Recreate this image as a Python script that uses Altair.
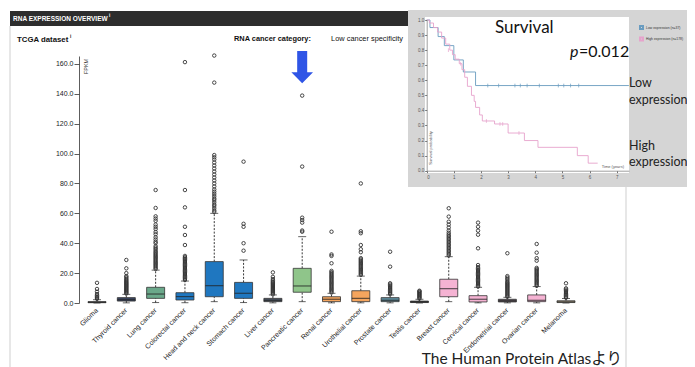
import altair as alt
import pandas as pd

# ---------------- data ----------------
cancers = ["Glioma", "Thyroid cancer", "Lung cancer", "Colorectal cancer",
           "Head and neck cancer", "Stomach cancer", "Liver cancer",
           "Pancreatic cancer", "Renal cancer", "Urothelial cancer",
           "Prostate cancer", "Testis cancer", "Breast cancer",
           "Cervical cancer", "Endometrial cancer", "Ovarian cancer", "Melanoma"]
lower_whisker = [0.0, 0.1, 0.3, 0.2, 0.9, 0.3, 0.1, 0.9, 0.1, 0.1, 0.1, 0.0, 0.9, 0.1, 0.1, 0.1, 0.0]
q1 = [0.2, 1.3, 3.1, 2.0, 4.2, 3.1, 0.9, 7.2, 0.9, 0.9, 0.9, 0.3, 4.2, 0.7, 0.7, 0.9, 0.3]
median = [0.5, 2.2, 6.0, 4.3, 11.6, 6.5, 1.8, 11.4, 2.5, 3.1, 1.8, 0.7, 9.6, 2.5, 1.4, 1.8, 0.8]
q3 = [0.9, 3.6, 10.5, 6.9, 27.7, 13.8, 3.1, 23.2, 4.2, 8.2, 3.6, 1.3, 15.9, 4.9, 2.5, 5.4, 1.5]
upper_whisker = [2.2, 5.8, 22.0, 14.7, 60.0, 28.8, 5.4, 44.4, 6.5, 18.0, 5.4, 2.5, 31.0, 10.5, 3.8, 11.0, 3.0]

outliers = {
    "Glioma": [2.8, 3.5, 4.2, 5.0, 6.0, 7.6, 9.4, 13.5],
    "Thyroid cancer": [6.3, 6.9, 7.5, 8.1, 8.7, 9.3, 9.9, 10.5, 11.1, 11.7, 12.3, 12.9,
                       13.5, 14.1, 14.8, 15.5, 16.3, 17.2, 18.0, 20.0, 23.2, 28.8],
    "Lung cancer": [22.8, 23.6, 24.4, 25.2, 26.0, 26.8, 27.6, 28.4, 29.2, 30.0, 30.8,
                    31.6, 32.4, 33.2, 34.0, 35.0, 36.0, 37.0, 38.0, 40.0, 41.0, 42.5,
                    44.0, 46.0, 47.5, 49.5, 51.0, 52.5, 55.0, 56.5, 58.0, 63.6, 75.6],
    "Colorectal cancer": [15.4, 16.2, 17.0, 17.8, 18.6, 19.4, 20.2, 21.0, 21.8, 22.6,
                          23.4, 24.2, 25.0, 25.8, 26.6, 27.4, 28.2, 29.0, 29.8, 30.6,
                          31.5, 38.8, 45.5, 51.0, 64.0, 75.6, 161.2],
    "Head and neck cancer": [61.0, 62.0, 63.5, 65.0, 66.0, 67.5, 69.0, 70.0, 71.5, 73.0,
                             74.5, 76.0, 78.0, 80.0, 82.0, 84.0, 86.0, 88.0, 90.0, 92.0,
                             94.0, 96.0, 97.5, 99.0, 147.5, 165.6],
    "Stomach cancer": [35.0, 40.0, 51.0, 53.0, 94.6],
    "Liver cancer": [5.8, 6.5, 7.2, 7.9, 8.6, 9.3, 10.0, 10.7, 11.4, 12.1, 12.8, 13.5,
                     14.2, 15.0, 16.0, 17.5, 20.5],
    "Pancreatic cancer": [47.7, 48.5, 53.8, 55.5, 57.1, 91.3, 138.8],
    "Renal cancer": [7.0, 7.8, 8.6, 9.4, 10.2, 11.0, 11.8, 12.6, 13.4, 14.2, 15.0, 15.8,
                     16.6, 17.4, 18.2, 19.0, 19.8, 20.6, 21.5, 26.6, 31.5, 32.5, 47.7],
    "Urothelial cancer": [18.8, 19.6, 20.4, 21.2, 22.0, 22.8, 23.6, 24.4, 25.2, 26.0,
                          26.8, 27.6, 28.4, 29.2, 30.0, 34.0, 36.0, 38.8, 46.7, 48.0, 80.0],
    "Prostate cancer": [6.0, 6.8, 7.6, 8.4, 9.2, 10.0, 10.8, 11.6, 12.4, 13.2, 24.3, 34.3],
    "Testis cancer": [3.0, 3.6, 4.2, 4.8, 5.4, 6.0, 6.6, 7.2, 7.8, 8.2],
    "Breast cancer": [31.8, 32.8, 33.8, 34.8, 35.8, 36.8, 37.8, 38.8, 39.8, 40.8, 41.8,
                      42.8, 43.8, 44.8, 45.8, 47.0, 48.5, 50.5, 52.5, 54.4, 57.8, 63.4],
    "Cervical cancer": [11.0, 11.8, 12.6, 13.4, 14.2, 15.0, 15.8, 16.6, 17.4, 18.2, 19.0,
                        19.8, 20.6, 21.4, 22.2, 23.0, 24.0, 25.4, 36.6, 45.7, 48.4, 51.0, 53.8],
    "Endometrial cancer": [4.2, 4.9, 5.6, 6.3, 7.0, 7.7, 8.4, 9.1, 9.8, 10.5, 11.2, 11.9,
                           12.6, 13.3, 14.0, 15.0, 16.0, 17.0, 18.0, 33.3],
    "Ovarian cancer": [11.5, 12.3, 13.1, 13.9, 14.7, 15.5, 16.3, 17.1, 17.9, 18.7, 19.5,
                       20.3, 21.1, 21.9, 22.7, 23.5, 28.3, 30.0, 33.7, 39.5],
    "Melanoma": [3.5, 4.2, 5.0, 5.8, 6.6, 7.4, 8.2, 9.0, 9.8, 13.2],
}
arrow_target = ["Pancreatic cancer"]
arrow_value = [157.9]

groups = ["Low expression (n=37)", "High expression (n=178)"]
low_time = [0.0, 0.12, 0.42, 0.65, 1.0, 1.35, 1.8, 7.45]
low_prob = [1.0, 0.95, 0.89, 0.83, 0.735, 0.655, 0.565, 0.565]
high_time = [0.0, 0.1, 0.25, 0.4, 0.55, 0.7, 0.85, 0.95, 1.05, 1.2, 1.3, 1.4, 1.5,
             1.65, 1.75, 1.8, 1.95, 2.05, 2.5, 3.0, 3.6, 4.1, 5.55, 5.95, 6.3]
high_prob = [1.0, 0.98, 0.95, 0.92, 0.88, 0.84, 0.80, 0.77, 0.74, 0.71, 0.67, 0.62, 0.56,
             0.50, 0.46, 0.42, 0.37, 0.33, 0.31, 0.25, 0.20, 0.155, 0.10, 0.05, 0.05]
low_cens_time = [2.25, 2.65, 3.25, 3.45, 3.7, 4.15, 4.85, 5.05, 5.3, 5.6]
high_cens_time = [0.8, 1.25, 2.2, 2.7, 2.8, 3.4]
high_cens_prob = [0.80, 0.71, 0.33, 0.31, 0.31, 0.25]

y_ticks = [0, 20, 40, 60, 80, 100, 120, 140, 160]
surv_y_ticks = [0.0, 0.1, 0.2, 0.3, 0.4, 0.5, 0.6, 0.7, 0.8, 0.9, 1.0]
surv_x_ticks = [0, 1, 2, 3, 4, 5, 6, 7]

# ---------------- styles ----------------
box_colors = ["#555555", "#3b4660", "#6aa88a", "#1f77c0", "#1f77c0", "#1f77c0",
              "#4b5563", "#8fc58a", "#f5a55e", "#f5a55e", "#5e8c9c", "#3a3a3a",
              "#f5b3d3", "#f5b3d3", "#5a5058", "#f5b3d3", "#c9b99a"]
surv_colors = ["#6a9cc0", "#e6a3cc"]
SANS = "Liberation Sans"
CAL = "Lato"
W, H = 679, 359

box_df = pd.DataFrame({"cancer": cancers, "lo": lower_whisker, "q1": q1,
                       "med": median, "q3": q3, "hi": upper_whisker})
out_df = pd.DataFrame([{"cancer": c, "v": v} for c in cancers for v in outliers[c]])
arrow_df = pd.DataFrame({"cancer": arrow_target, "v": arrow_value})
surv_df = pd.concat([
    pd.DataFrame({"group": groups[0], "t": low_time, "p": low_prob}),
    pd.DataFrame({"group": groups[1], "t": high_time, "p": high_prob}),
])
cens_df = pd.concat([
    pd.DataFrame({"group": groups[0], "t": low_cens_time, "p": [low_prob[-1]] * len(low_cens_time)}),
    pd.DataFrame({"group": groups[1], "t": high_cens_time, "p": high_cens_prob}),
])
one = pd.DataFrame({"k": [0]})

# ---------------- box plot ----------------
XS = alt.Scale(domain=cancers, range=[74.35, 572.65], paddingInner=0, paddingOuter=0)
YS = alt.Scale(domain=[0, 165.3], range=[295, 48], nice=False, zero=False)
xaxis = alt.Axis(orient="bottom", offset=297 - H, ticks=False, domain=False,
                 labelAngle=-45, labelAlign="right", labelBaseline="middle",
                 labelFontSize=7, labelFont=SANS, labelColor="#222", labelPadding=4,
                 labelLimit=0, title=None, grid=False)
yaxis = alt.Axis(orient="left", offset=-71, values=y_ticks, format=".1f",
                 labelFontSize=7, labelFont=SANS, labelColor="#222", labelPadding=1,
                 tickSize=5, tickColor="#333", tickWidth=0.8, domainColor="#333",
                 domainWidth=0.8, grid=False, title="FPKM", titleFontSize=5.5,
                 titleFont=SANS, titleFontWeight="normal", titleColor="#333",
                 titleAngle=270, titleX=6, titleY=58, titleAlign="center",
                 titleBaseline="middle")


def X():
    return alt.X("cancer:N", scale=XS, axis=xaxis, title=None)


def Y(f):
    return alt.Y(f"{f}:Q", scale=YS, axis=yaxis, title="FPKM")


col = alt.Color("cancer:N", scale=alt.Scale(domain=cancers, range=box_colors), legend=None)

lw = alt.Chart(box_df).mark_rule(strokeDash=[2, 1.5], strokeWidth=0.9, color="#222").encode(
    x=X(), y=Y("lo"), y2="q1")
uw = alt.Chart(box_df).mark_rule(strokeDash=[2, 1.5], strokeWidth=0.9, color="#222").encode(
    x=X(), y=Y("q3"), y2="hi")
cap_hi = alt.Chart(box_df).mark_tick(size=8, thickness=1, color="#222").encode(x=X(), y=Y("hi"))
cap_lo = alt.Chart(box_df).mark_tick(size=7, thickness=1, color="#222").encode(x=X(), y=Y("lo"))
box = alt.Chart(box_df).mark_bar(size=18, stroke="#333", strokeWidth=0.8).encode(
    x=X(), y=Y("q1"), y2="q3", color=col)
med = alt.Chart(box_df).mark_tick(size=18, thickness=1.2, color="#222").encode(x=X(), y=Y("med"))
pts = alt.Chart(out_df).mark_point(shape="circle", filled=False, size=12, strokeWidth=0.9,
                                   color="#333", opacity=1).encode(x=X(), y=Y("v"))
ARROW = "M-0.31,-1L0.31,-1L0.31,0.32L0.67,0.32L0,1L-0.67,0.32L-0.31,0.32Z"
arrow = alt.Chart(arrow_df).mark_point(shape=ARROW, filled=True, size=1043, color="#2f55e6",
                                       opacity=1, strokeWidth=0).encode(x=X(), y=Y("v"))
box_layer = alt.layer(lw, uw, cap_hi, cap_lo, box, med, pts, arrow)

# ---------------- survival inset ----------------
SX = alt.Scale(domain=[0, 7.45], range=[418.7, 620.9], nice=False, zero=False)
SY = alt.Scale(domain=[0, 1], range=[162.7, 12], nice=False, zero=False)
sxaxis = alt.Axis(orient="bottom", offset=162.7 - H, values=surv_x_ticks, format="d",
                  labelFontSize=4.5, labelFont=SANS, labelColor="#555", tickSize=2,
                  tickColor="#777", domainColor="#777", domainWidth=0.7, labelPadding=2,
                  grid=False, title=None, zindex=1)
syaxis = alt.Axis(orient="left", offset=-418.7, values=surv_y_ticks, format=".1f",
                  labelFontSize=4.5, labelFont=SANS, labelColor="#555", tickSize=2,
                  tickColor="#777", domainColor="#777", domainWidth=0.7, labelPadding=1,
                  grid=False, title=None, zindex=1)
slegend = alt.Legend(orient="none", legendX=631, legendY=17, title=None, labelFontSize=3.4,
                     labelFont=SANS, labelColor="#333", symbolType="square", symbolSize=9,
                     symbolStrokeWidth=2, rowPadding=0.5, labelOffset=2, padding=0,
                     zindex=1)
scol = alt.Color("group:N", scale=alt.Scale(domain=groups, range=surv_colors), legend=slegend)
lines = alt.Chart(surv_df).mark_line(interpolate="step-after", strokeWidth=0.9).encode(
    x=alt.X("t:Q", scale=SX, axis=sxaxis), y=alt.Y("p:Q", scale=SY, axis=syaxis), color=scol)
cens = alt.Chart(cens_df).mark_point(shape="M0,-1L0,1", size=14, strokeWidth=0.7,
                                     filled=False, opacity=1).encode(
    x=alt.X("t:Q", scale=SX, axis=sxaxis), y=alt.Y("p:Q", scale=SY, axis=syaxis), color=scol)
surv_layer = alt.layer(lines, cens)


# ---------------- decorations ----------------
def rect(x, x2, y, y2, color):
    return alt.Chart(one).mark_rect(color=color).encode(
        x=alt.value(x), x2=alt.value(x2), y=alt.value(y), y2=alt.value(y2))


def vline(x, y, y2, color):
    return alt.Chart(one).mark_rule(color=color, strokeWidth=1).encode(
        x=alt.value(x), y=alt.value(y), y2=alt.value(y2))


def txt(s, x, y, size, font=SANS, color="#111", align="left", weight="normal",
        style="normal", angle=0):
    return alt.Chart(one).mark_text(text=s, fontSize=size, font=font, color=color,
                                    align=align, baseline="middle", fontWeight=weight,
                                    fontStyle=style, angle=angle).encode(
        x=alt.value(x), y=alt.value(y))


deco_back = [
    vline(2, 18, H, "#cfcfcf"),
    vline(618, 18, H, "#cfcfcf"),
    rect(2, 400, 3, 18, "#2d2d2d"),
    txt("RNA EXPRESSION OVERVIEW", 5, 10.5, 6.5, color="white", weight="bold"),
    txt("i", 101, 8, 4.5, color="white", weight="bold"),
    txt("TCGA dataset", 9, 31.5, 7.8, weight="bold"),
    txt("i", 62, 28.5, 4.5, weight="bold"),
    txt("RNA cancer category:", 226, 31, 7.4, weight="bold"),
    txt("Low cancer specificity", 395, 31, 7.4, align="right", color="#111"),
]
deco_inset = [
    rect(400, W, 2, 179, "#d5d5d5"),
    rect(417, 621, 9, 165, "#ffffff"),
]
deco_front = [
    txt("Survival", 487, 20, 17, font=CAL),
    txt("p", 562, 44, 16, font=CAL, style="italic"),
    txt("=0.012", 571, 44, 16, font=CAL),
    txt("Low", 621, 75, 12.5, font=CAL, color="#222"),
    txt("expression", 621, 92, 12.5, font=CAL, color="#222"),
    txt("High", 621, 138, 12.5, font=CAL, color="#222"),
    txt("expression", 621, 154, 12.5, font=CAL, color="#222"),
    txt("Time (years)", 616, 159, 4, color="#555", align="right"),
    txt("Survival probability", 423, 140, 4, color="#555", align="center", angle=270),
    txt("The Human Protein Atlasより", 614, 351, 15.5, font="Lato, Noto Sans CJK JP",
        color="#222", align="right"),
]

chart = alt.layer(
    *deco_back, box_layer, *deco_inset, surv_layer, *deco_front
).resolve_scale(
    x="independent", y="independent", color="independent"
).properties(
    width=W, height=H, padding=0, autosize=alt.AutoSizeParams(type="none"),
    background="white"
).configure_view(stroke=None)

chart.save("out.html", embed_options={"renderer": "svg", "actions": False})
